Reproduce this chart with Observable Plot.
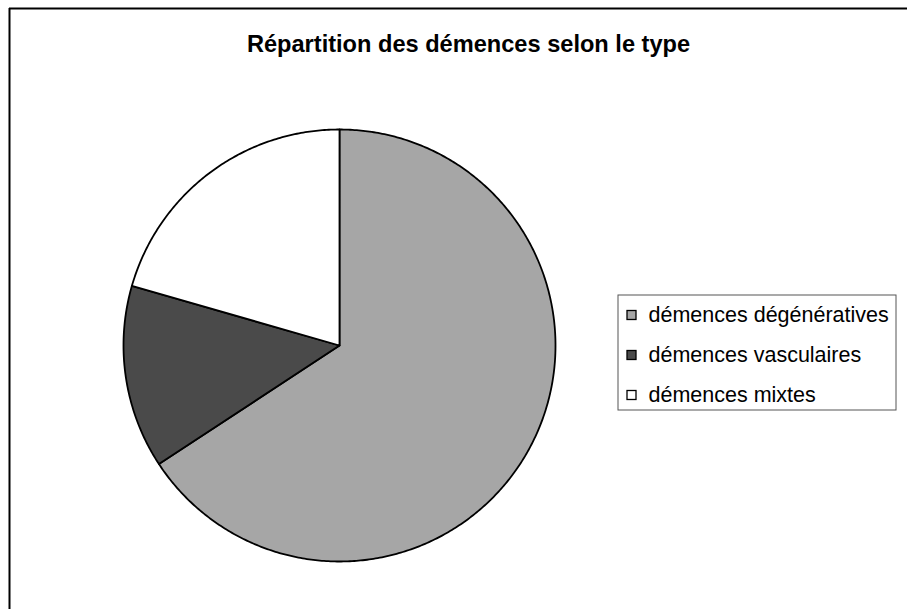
<!DOCTYPE html>
<html><head><meta charset="utf-8">
<script src="https://cdn.jsdelivr.net/npm/d3@7"></script>
<script src="https://cdn.jsdelivr.net/npm/@observablehq/plot@0.6"></script>
<style>body{margin:0;background:#fff} svg{display:block}</style>
</head><body><div id="chart"></div>
<script>
const title = "Répartition des démences selon le type";
const categories = ["démences dégénératives", "démences vasculaires", "démences mixtes"];
const values = [48, 10, 15];
const colors = ["#a6a6a6", "#4a4a4a", "#ffffff"];

const W = 907, H = 609, cx = 339, cy = 345, r = 216;
const arcs = d3.pie().sort(null).value(d => d.value)(categories.map((c, i) => ({category: c, value: values[i]})));
const slicePts = arcs.flatMap(a => {
  const n = Math.max(2, Math.ceil((a.endAngle - a.startAngle) / 0.01));
  const pts = [{category: a.data.category, x: cx, y: cy}];
  for (let k = 0; k <= n; k++) {
    const t = a.startAngle + (a.endAngle - a.startAngle) * k / n;
    pts.push({category: a.data.category, x: cx + r * Math.sin(t), y: cy - r * Math.cos(t)});
  }
  return pts;
});

const lg = {x1: 618, x2: 896, y1: 295, y2: 410, row0: 315, dy: 40, sq: 9, sx: 627, tx: 648};
const legendRows = categories.map((c, i) => ({category: c, y: lg.row0 + i * lg.dy}));

const font = "Arial, 'Liberation Sans', sans-serif";
const chart = Plot.plot({
  width: W, height: H, margin: 0,
  x: {type: "identity", axis: null}, y: {type: "identity", axis: null},
  color: {domain: categories, range: colors},
  style: {fontFamily: font, background: "#fff"},
  marks: [
    Plot.ruleY([8], {x1: 9, x2: W, stroke: "#000", strokeWidth: 2}),
    Plot.ruleX([9], {y1: 8, y2: H, stroke: "#000", strokeWidth: 2}),
    Plot.text([title], {x: 468, y: 44, text: d => d, fontSize: 23.6, fontWeight: "bold", fill: "#000"}),
    Plot.line(slicePts, {x: "x", y: "y", z: "category", fill: "category", stroke: "#000", strokeWidth: 1.8, curve: "linear-closed", strokeLinejoin: "round"}),
    Plot.rect([lg], {x1: "x1", x2: "x2", y1: "y1", y2: "y2", fill: "none", stroke: "#555", strokeWidth: 1}),
    Plot.rect(legendRows, {x1: lg.sx, x2: lg.sx + lg.sq, y1: d => d.y - lg.sq / 2, y2: d => d.y + lg.sq / 2, fill: "category", stroke: "#000", strokeWidth: 1.3}),
    Plot.text(legendRows, {x: lg.tx, y: "y", text: "category", textAnchor: "start", fontSize: 21.5, fill: "#000"})
  ]
});
document.getElementById("chart").append(chart);
</script>
</body></html>
